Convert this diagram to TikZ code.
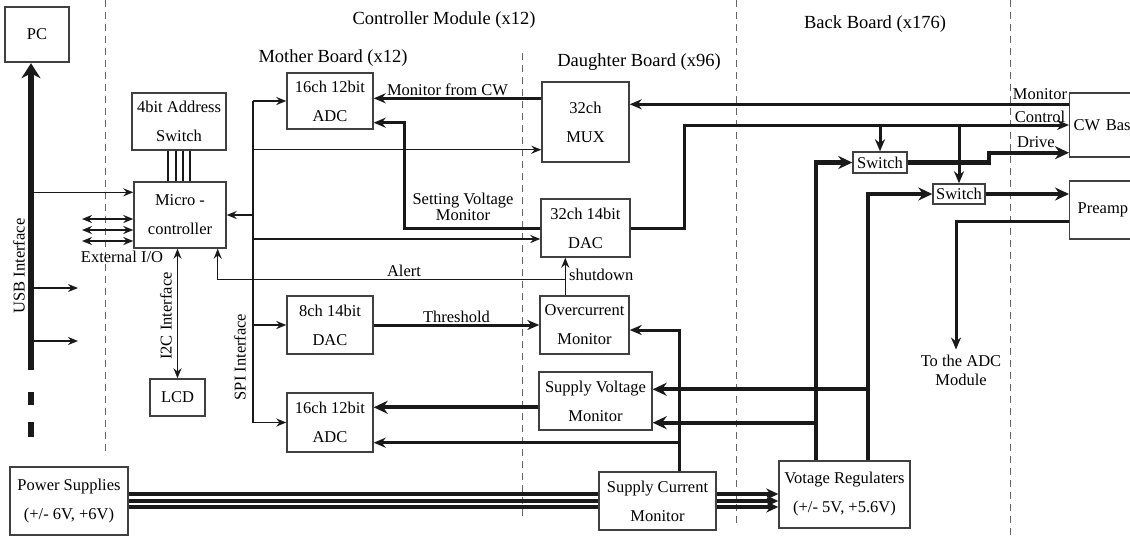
\documentclass[tikz,border=0pt]{standalone}
\usepackage{fontspec}
\setmainfont{Liberation Serif}
\usetikzlibrary{arrows.meta,calc}

\begin{document}
\begin{tikzpicture}[x=1pt,y=-1pt,
    box/.style={draw=black!75,line width=1.4pt,inner sep=0pt,align=center,
      font=\fontsize{16.5}{29}\selectfont},
    lab/.style={inner sep=1pt,align=center,font=\fontsize{16.5}{19}\selectfont},
    ttl/.style={inner sep=1pt,font=\fontsize{18.5}{22}\selectfont},
    sig/.style={line width=1.5pt,draw=black!90},
    mid/.style={line width=3pt,draw=black!90,>={Stealth[length=12pt,width=10pt]}},
    thk/.style={line width=4.2pt,draw=black!90,>={Stealth[length=14pt,width=13pt]}},
    pwr/.style={line width=4.2pt,draw=black!90,>={Stealth[length=12pt,width=11pt]}},
    usb/.style={line width=6pt,draw=black!90},
    sep/.style={draw=black!60,line width=1pt,dash pattern=on 7pt off 5pt},
    >={Stealth[length=10pt,width=8pt]}]
  \useasboundingbox (0,0) rectangle (1130,536);

  % module borders
  \draw[sep] (105,0) -- (105,453);
  \draw[sep] (522,53) -- (522,520);
  \draw[sep] (736,0) -- (736,523);
  \draw[sep] (1010,0) -- (1010,536);

  \node[ttl] (cmt) at (444,20) {Controller Module (x12)};
  \node[ttl] (mbt) at (333,58) {Mother Board (x12)};
  \node[ttl] (dbt) at (639,62) {Daughter Board (x96)};
  \node[ttl] (bbt) at (875,24) {Back Board (x176)};

  % blocks
  \node[box,line width=2.4pt,minimum width=64pt,minimum height=55pt] (pc) at (37,34.5) {PC};
  \node[box,minimum width=94pt,minimum height=57pt] (addr) at (179,121.5) {4bit Address\\Switch};
  \node[box,minimum width=92pt,minimum height=66pt] (mcu) at (180,215) {Micro -\\controller};
  \node[box,minimum width=55pt,minimum height=37pt] (lcd) at (177.5,397.5) {LCD};
  \node[box,minimum width=86pt,minimum height=56pt] (adc1) at (330,101) {16ch 12bit\\ADC};
  \node[box,minimum width=86pt,minimum height=58pt] (dac8) at (330,325) {8ch 14bit\\DAC};
  \node[box,minimum width=86pt,minimum height=59pt] (adc2) at (330,422.5) {16ch 12bit\\ADC};
  \node[box,minimum width=87pt,minimum height=80pt] (mux) at (585.5,122) {32ch\\MUX};
  \node[box,minimum width=89pt,minimum height=58pt] (dac32) at (585.5,228) {32ch 14bit\\DAC};
  \node[box,minimum width=89pt,minimum height=58pt] (ocm) at (584.5,325) {Overcurrent\\Monitor};
  \node[box,minimum width=113pt,minimum height=58pt] (svm) at (595.5,401) {Supply Voltage\\Monitor};
  \node[box,minimum width=117pt,minimum height=58pt] (scm) at (657.5,501) {Supply Current\\Monitor};
  \node[box,minimum width=131pt,minimum height=67pt] (vreg) at (844.5,494.5) {Votage Regulaters\\(+/- 5V, +5.6V)};
  \node[box,minimum width=118pt,minimum height=68pt] (ps) at (69,501) {Power Supplies\\(+/- 6V, +6V)};
  \node[box,minimum width=54pt,minimum height=21pt] (sw1) at (880,162.5) {Switch};
  \node[box,minimum width=52pt,minimum height=20pt] (sw2) at (959,194) {Switch};
  \node[box,anchor=west,minimum height=64pt,text width=84pt,align=left,inner xsep=4pt] (cw) at (1069,125) {CW Base};
  \node[box,anchor=west,minimum height=58pt,text width=80pt,align=left,inner xsep=8pt] (pre) at (1069,210) {Preamp};

  % USB side
  \coordinate (usbend) at (31,370);
  \draw[usb,-{Stealth[length=15pt,width=19pt]}] (usbend) -- (pc.south -| usbend);
  \draw[usb] (31,392) -- (31,405) (31,422) -- (31,437);
  \node[lab,rotate=90] (usbl) at (19,266) {USB Interface};
  \coordinate (mcuin) at ($(mcu.north west)+(0,11)$);
  \draw[sig,->] (usbend |- mcuin) -- (mcuin);
  \foreach \y in {288,341}{
    \coordinate (u\y) at (78,\y);
    \draw[sig,->] (usbend |- u\y) -- (u\y);}
  \foreach \y [count=\i] in {219,230,241}{
    \coordinate (io\i) at (82,\y);
    \draw[sig,<->] (io\i) -- (io\i -| mcu.west);}
  \node[lab] (iol) at (122,257) {External I/O};
  \foreach \dx in {-11,-3,4,11}
    \draw[sig] ($(addr.south)+(\dx,0)$) coordinate (a) -- (a |- mcu.north);
  \draw[sig,<->] (mcu.south -| lcd.north) -- (lcd.north);
  \node[lab,rotate=90] (i2cl) at (166,316) {I2C Interface};

  % SPI bus
  \coordinate (spi) at (253,0);
  \draw[sig] (spi |- adc1.west) -- (spi |- adc2.west);
  \node[lab,rotate=90] (spil) at (240,357) {SPI Interface};
  \draw[sig,->] (spi |- adc1.west) -- (adc1.west);
  \draw[sig,->] (spi |- mcu.east) -- (mcu.east);
  \coordinate (muxin) at ($(mux.south west)+(0,-13)$);
  \draw[sig,->] (spi |- muxin) -- (muxin);
  \coordinate (dacin) at ($(dac32.west)+(0,11)$);
  \draw[sig,->] (spi |- dacin) -- (dacin);
  \draw[sig,->] (spi |- dac8.west) -- (dac8.west);
  \draw[sig,->] (spi |- adc2.west) -- (adc2.west);

  % monitor and setting lines
  \coordinate (mcw) at ($(mux.north west)+(0,17)$);
  \draw[mid,->] (mcw) -- (adc1.east |- mcw)
    node[lab,above,midway,xshift=-10pt] (mcwl) {Monitor from CW};
  \draw[mid,->] (dac32.west) -| ($(adc1.south east)+(31,-7)$) -- ($(adc1.south east)+(0,-7)$);
  \node[lab,font=\fontsize{16.5}{14}\selectfont] (svl) at (463,207) {Setting Voltage\\Monitor};
  \draw[mid,->] (dac32.east) -- ++(54,0) |- (cw.west);
  \coordinate (cwmon) at ($(cw.north west)+(0,12)$);
  \draw[mid,->] (cwmon) -- (mux.east |- cwmon);
  \node[lab] (monl) at (1040,94) {Monitor};
  \node[lab] (ctll) at (1040,117) {Control};
  \node[lab] (drvl) at (1036,142) {Drive};

  % alert and shutdown
  \coordinate (sd) at ($(ocm.north west)+(26,0)$);
  \draw[sig,->] (sd) -- (sd |- dac32.south);
  \node[lab,anchor=west] (sdl) at (568,275) {shutdown};
  \draw[sig,->] ($(sd)+(0,-16)$) -| ($(mcu.south east)+(-9,0)$);
  \node[lab] (alel) at (404,271) {Alert};
  \draw[mid,->] (dac8.east) -- (ocm.west |- dac8.east)
    node[lab,above,midway] (thrl) {Threshold};

  % back board switches
  \draw[mid,->] (sw1.north |- cw.west) -- (sw1.north);
  \draw[mid,->] (sw2.north |- cw.west) -- (sw2.north);
  \draw[thk,->] (sw1.east) -| ($(cw.south west)+(-80,-5)$) -- ($(cw.south west)+(0,-5)$);
  \draw[thk,->] (sw2.east) -- (sw2.east -| pre.west);
  \node[lab] (toadc) at (961,370) {To the ADC\\Module};
  \draw[mid,->] ($(pre.west)+(0,11)$) -| ($(toadc.north)+(-5,-4)$);

  % regulated supply
  \coordinate (vr1) at ($(vreg.north west)+(38,0)$);
  \coordinate (vr2) at ($(vreg.north west)+(90,0)$);
  \draw[thk,->] (vr1) |- (sw1.west);
  \draw[thk,->] (vr2) |- (sw2.west);
  \coordinate (svin1) at ($(svm.north east)+(0,18)$);
  \coordinate (svin2) at ($(svm.south east)+(0,-8)$);
  \draw[thk,->] (vr2 |- svin1) -- (svin1);
  \draw[thk,->] (vr1 |- svin2) -- (svin2);
  \coordinate (svout) at ($(svm.north west)+(0,36)$);
  \draw[thk,->] (svout) -- (adc2.east |- svout);

  % supply current
  \coordinate (sc) at ($(scm.north west)+(81,0)$);
  \draw[mid,->] (sc) |- ($(ocm.east)+(0,5)$);
  \coordinate (adcin) at ($(adc2.south east)+(0,-10)$);
  \draw[mid,->] (sc |- adcin) -- (adcin);

  % power lines
  \foreach \d in {-7,0,6}{
    \draw[pwr] ($(ps.east)+(0,\d)$) -- ($(scm.west)+(0,\d)$);
    \draw[pwr,->] ($(scm.east)+(0,\d)$) -- ($(vreg.west |- scm.east)+(0,\d)$);}
\end{tikzpicture}
\end{document}
